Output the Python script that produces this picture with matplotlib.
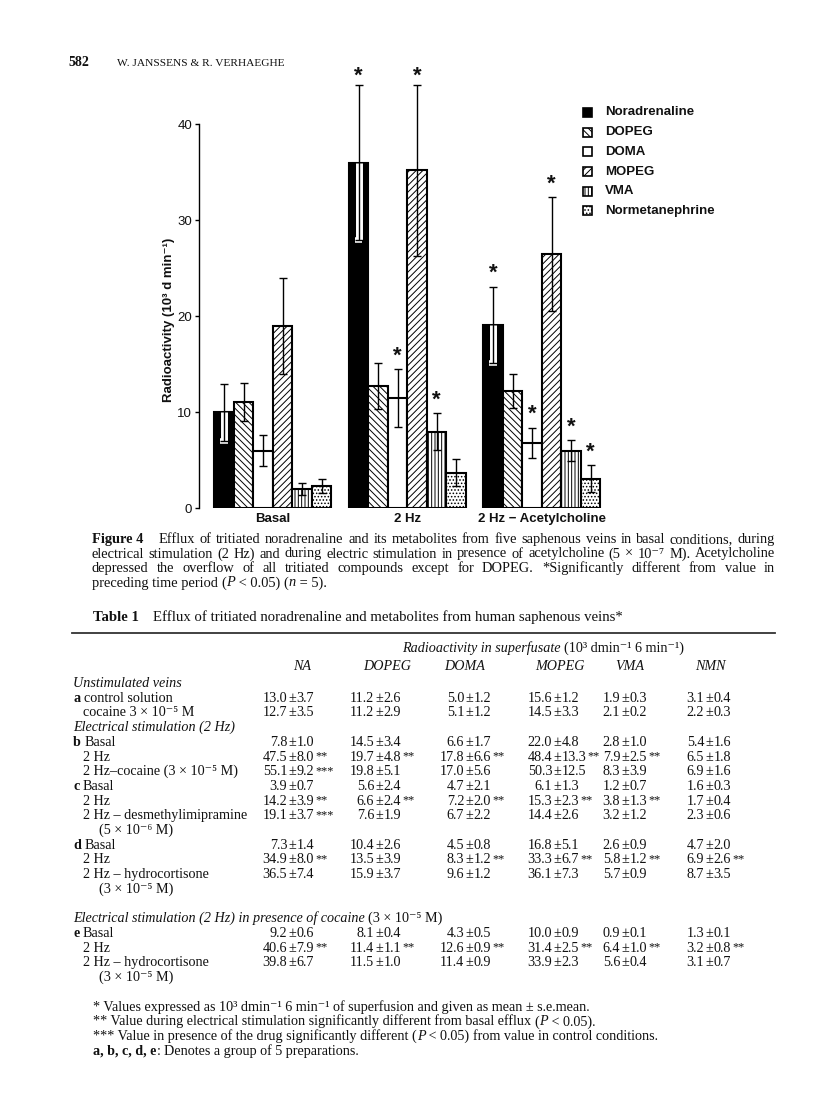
import matplotlib
matplotlib.use("Agg")
import matplotlib.pyplot as plt
from matplotlib.patches import Rectangle

W, H, DPI = 816, 1113, 100
INK = "#111111"
SERIF = ["Liberation Serif", "DejaVu Serif"]
SANS = ["Liberation Sans", "DejaVu Sans"]
plt.rcParams["hatch.linewidth"] = 0.7

# ---- Figure 4 data (10^3 d/min) ----
compounds = ["Noradrenaline", "DOPEG", "DOMA", "MOPEG", "VMA", "Normetanephrine"]
periods = ["Basal", "2 Hz", "2 Hz \u2212 Acetylcholine"]
basal_mean = [10.0, 11.1, 6.0, 19.0, 2.0, 2.3]
basal_err = [3.0, 2.0, 1.6, 5.0, 0.6, 0.7]
hz_mean = [36.0, 12.7, 11.5, 35.2, 8.0, 3.7]
hz_err = [8.1, 2.4, 3.0, 8.9, 1.9, 1.4]
ach_mean = [19.1, 12.2, 6.8, 26.5, 6.0, 3.1]
ach_err = [4.0, 1.8, 1.6, 5.9, 1.1, 1.4]
basal_sig = [0, 0, 0, 0, 0, 0]
hz_sig = [1, 0, 1, 1, 1, 0]
ach_sig = [1, 0, 1, 1, 1, 1]
yticks = [0, 10, 20, 30, 40]

fills = ["black", "white", "white", "white", "white", "white"]
hatches = [None, "\\\\\\\\\\", None, "/////", "|||||", "....."]

# ---- Table 1 data ----
col_names = ["NA", "DOPEG", "DOMA", "MOPEG", "VMA", "NMN"]
row_letters = ["a", "", "b", "", "", "c", "", "", "d", "", "", "e", "", ""]
row_labels = ["control solution", "cocaine 3 \u00d7 10\u207b\u2075 M", "Basal", "2 Hz",
              "2 Hz\u2013cocaine (3 \u00d7 10\u207b\u2075 M)", "Basal", "2 Hz",
              "2 Hz \u2013 desmethylimipramine", "Basal", "2 Hz", "2 Hz \u2013 hydrocortisone",
              "Basal", "2 Hz", "2 Hz \u2013 hydrocortisone"]
row_notes = ["", "", "", "", "", "", "", "(5 \u00d7 10\u207b\u2076 M)", "", "",
             "(3 \u00d7 10\u207b\u2075 M)", "", "", "(3 \u00d7 10\u207b\u2075 M)"]
na = ["13.0\u00b13.7", "12.7\u00b13.5", "7.8\u00b11.0", "47.5\u00b18.0**", "55.1\u00b19.2***",
      "3.9\u00b10.7", "14.2\u00b13.9**", "19.1\u00b13.7***", "7.3\u00b11.4", "34.9\u00b18.0**",
      "36.5\u00b17.4", "9.2\u00b10.6", "40.6\u00b17.9**", "39.8\u00b16.7"]
dopeg = ["11.2\u00b12.6", "11.2\u00b12.9", "14.5\u00b13.4", "19.7\u00b14.8**", "19.8\u00b15.1",
         "5.6\u00b12.4", "6.6\u00b12.4**", "7.6\u00b11.9", "10.4\u00b12.6", "13.5\u00b13.9",
         "15.9\u00b13.7", "8.1\u00b10.4", "11.4\u00b11.1**", "11.5\u00b11.0"]
doma = ["5.0\u00b11.2", "5.1\u00b11.2", "6.6\u00b11.7", "17.8\u00b16.6**", "17.0\u00b15.6",
        "4.7\u00b12.1", "7.2\u00b12.0**", "6.7\u00b12.2", "4.5\u00b10.8", "8.3\u00b11.2**",
        "9.6\u00b11.2", "4.3\u00b10.5", "12.6\u00b10.9**", "11.4\u00b10.9"]
mopeg = ["15.6\u00b11.2", "14.5\u00b13.3", "22.0\u00b14.8", "48.4\u00b113.3**", "50.3\u00b112.5",
         "6.1\u00b11.3", "15.3\u00b12.3**", "14.4\u00b12.6", "16.8\u00b15.1", "33.3\u00b16.7**",
         "36.1\u00b17.3", "10.0\u00b10.9", "31.4\u00b12.5**", "33.9\u00b12.3"]
vma = ["1.9\u00b10.3", "2.1\u00b10.2", "2.8\u00b11.0", "7.9\u00b12.5**", "8.3\u00b13.9",
       "1.2\u00b10.7", "3.8\u00b11.3**", "3.2\u00b11.2", "2.6\u00b10.9", "5.8\u00b11.2**",
       "5.7\u00b10.9", "0.9\u00b10.1", "6.4\u00b11.0**", "5.6\u00b10.4"]
nmn = ["3.1\u00b10.4", "2.2\u00b10.3", "5.4\u00b11.6", "6.5\u00b11.8", "6.9\u00b11.6",
       "1.6\u00b10.3", "1.7\u00b10.4", "2.3\u00b10.6", "4.7\u00b12.0", "6.9\u00b12.6**",
       "8.7\u00b13.5", "1.3\u00b10.1", "3.2\u00b10.8**", "3.1\u00b10.7"]
columns = [na, dopeg, doma, mopeg, vma, nmn]

fig = plt.figure(figsize=(W / DPI, H / DPI), dpi=DPI)
fig.patch.set_facecolor("white")
page = fig.add_axes([0, 0, 1, 1])
page.set_xlim(0, W)
page.set_ylim(H, 0)
page.axis("off")
renderer = fig.canvas.get_renderer()


def width_of(t):
    return t.get_window_extent(renderer).width


def token(y, parts, size, family):
    x, made = 0.0, []
    for text, st in parts:
        kw = dict(fontsize=size, family=family, va="baseline", color=INK)
        kw.update(st)
        t = page.text(x, y, text, **kw)
        made.append(t)
        x += width_of(t)
    return made, x


def space_of(size, family):
    a = page.text(0, 0, "x x", fontsize=size, family=family)
    b = page.text(0, 0, "xx", fontsize=size, family=family)
    s = width_of(a) - width_of(b)
    a.remove()
    b.remove()
    return s


def line(x0, y, tokens, size, family=SERIF, x1=None):
    # tokens: list of runs; runs are (text, style) placed side by side
    built = [token(y, p, size, family) for p in tokens]
    total = sum(w for _, w in built)
    if x1 is None or len(built) < 2:
        gap = space_of(size, family)
    else:
        gap = (x1 - x0 - total) / (len(built) - 1)
    x = x0
    for made, w in built:
        for t in made:
            t.set_x(t.get_position()[0] + x)
        x += w + gap
    return x - gap


def words(s, **st):
    return [[(w, st)] for w in s.split()]


BOLD = dict(fontweight="bold")
ITAL = dict(style="italic")

# ---- running head ----
line(68, 66, [[("582", BOLD)]], 10)
line(117, 66, [[("W. JANSSENS & R. VERHAEGHE", {})]], 8.2)

# ---- bar chart ----
ax_left, ax_right, y0_px, ytop_px = 199, 622, 508.3, 60
px_per_unit = 9.6
bar_px = 19.5
ax = fig.add_axes([ax_left / W, 1 - y0_px / H, (ax_right - ax_left) / W, (y0_px - ytop_px) / H])
ax.patch.set_alpha(0)
ax.set_ylim(0, (y0_px - ytop_px) / px_per_unit)
x_start = -(214.3 - ax_left) / bar_px
ax.set_xlim(x_start, x_start + (ax_right - ax_left) / bar_px)
group_step = 134.5 / bar_px

means = [basal_mean, hz_mean, ach_mean]
errs = [basal_err, hz_err, ach_err]
sigs = [basal_sig, hz_sig, ach_sig]
for g, (m, e, s) in enumerate(zip(means, errs, sigs)):
    for i in range(len(compounds)):
        x = g * group_step + i + 0.5
        ax.bar(x, m[i], width=1, color=fills[i], hatch=hatches[i], edgecolor="black",
               linewidth=1.5, zorder=2)
        if fills[i] == "black":
            ax.vlines(x, m[i] - e[i], m[i], color="white", lw=5, zorder=3)
            ax.hlines(m[i] - e[i], x - 0.2, x + 0.2, color="white", lw=4, zorder=3)
        ax.errorbar(x, m[i], yerr=e[i], fmt="none", ecolor="black", elinewidth=1.0,
                    capsize=3, capthick=1.0, zorder=4)
        if s[i]:
            ax.text(x, min(m[i] + e[i] + 0.8, 44.4), "*", ha="center", va="baseline",
                    fontsize=16, fontweight="bold", family=SANS, color=INK, clip_on=False)
    ax.text(g * group_step + 3, -1.1, periods[g], ha="center", va="center", fontsize=9.5,
            fontweight="bold", family=SANS, color=INK, clip_on=False)

for side in ["top", "right", "bottom"]:
    ax.spines[side].set_visible(False)
ax.spines["left"].set_bounds(0, 40)
ax.spines["left"].set_linewidth(1.0)
ax.set_yticks(yticks)
ax.set_xticks([])
ax.tick_params(axis="y", length=3, width=1, pad=2, labelsize=9.5, labelcolor=INK)
for lab in ax.get_yticklabels():
    lab.set_family(SANS)
page.text(169, 320, "Radioactivity (10\u00b3 d min\u207b\u00b9)", rotation=90, ha="center",
          va="center", fontsize=9.5, fontweight="bold", family=SANS, color=INK)

# legend
leg_y = [112.3, 132.3, 151.7, 171.7, 191, 210.7]
for i, name in enumerate(compounds):
    page.add_patch(Rectangle((583, leg_y[i] - 4.5), 9, 9, facecolor=fills[i], hatch=hatches[i],
                             edgecolor="black", lw=1.2))
    page.text(605, leg_y[i], name, va="center", ha="left", fontsize=9.5, fontweight="bold",
              family=SANS, color=INK)

# ---- caption ----
cap_size = 10.4
cap_x0, cap_x1 = 92, 775
lead, lw_ = token(543, [("Figure 4", BOLD)], cap_size, SERIF)
for t in lead:
    t.set_x(cap_x0)
line(cap_x0 + lw_ + 15, 543, words("Efflux of tritiated noradrenaline and its metabolites from "
                                   "five saphenous veins in basal conditions, during"),
     cap_size, x1=cap_x1)
line(cap_x0, 557.5, words("electrical stimulation (2 Hz) and during electric stimulation in "
                          "presence of acetylcholine (5 \u00d7 10\u207b\u2077 M). Acetylcholine"),
     cap_size, x1=cap_x1)
line(cap_x0, 572, words("depressed the overflow of all tritiated compounds except for DOPEG. "
                        "*Significantly different from value in"), cap_size, x1=cap_x1)
line(cap_x0, 586.5, [[("preceding time period", {})],
                     [("(", {}), ("P", ITAL), (" < 0.05)", {})],
                     [("(", {}), ("n", ITAL), (" = 5).", {})]], cap_size)

# ---- table ----
tab_size = 10.2
lead, lw_ = token(621, [("Table 1", BOLD)], 10.6, SERIF)
for t in lead:
    t.set_x(93)
line(93 + lw_ + 14, 621, [[("Efflux of tritiated noradrenaline and metabolites from human "
                            "saphenous veins*", {})]], 10.6)
page.plot([72, 775], [632.5, 632.5], color="#333333", lw=1.3)

line(402, 652, [[("Radioactivity in superfusate", ITAL)],
                [("(10\u00b3 dmin\u207b\u00b9 6 min\u207b\u00b9)", {})]], tab_size)
col_head_x = [301.7, 386.7, 465, 560, 630, 710]
col_pm_x = [288, 375, 465, 553, 621, 705]
for cx, name in zip(col_head_x, col_names):
    page.text(cx, 670, name, ha="center", va="baseline", fontsize=tab_size, style="italic",
              family=SERIF, color=INK)

row_h = 14.7
sections = {0: [[("Unstimulated veins", ITAL)]], 2: [[("Electrical stimulation (2 Hz)", ITAL)]],
            11: [[("Electrical stimulation (2 Hz) in presence of cocaine", ITAL)],
                 [("(3 \u00d7 10\u207b\u2075 M)", {})]]}
y = 687
for r in range(len(row_labels)):
    if r in sections:
        if r == 11:
            y += row_h
        line(73, y, sections[r], tab_size)
        y += row_h
    if row_letters[r]:
        line(73, y, [[(row_letters[r], BOLD)], [(row_labels[r], {})]], tab_size)
    else:
        line(83, y, [[(row_labels[r], {})]], tab_size)
    for col, px in zip(columns, col_pm_x):
        mean, rest = col[r].split("\u00b1")
        sd, stars = rest.rstrip("*"), "*" * rest.count("*")
        page.text(px - 0.8, y, mean, ha="right", va="baseline", fontsize=tab_size,
                  family=SERIF, color=INK)
        pm = page.text(px, y, "\u00b1", ha="left", va="baseline", fontsize=tab_size,
                       family=SERIF, color=INK)
        sd_t = page.text(px + width_of(pm) + 0.8, y, sd, ha="left", va="baseline",
                         fontsize=tab_size, family=SERIF, color=INK)
        if stars:
            page.text(px + width_of(pm) + 1.8 + width_of(sd_t), y - 1, stars, ha="left",
                      va="baseline", fontsize=8.8, family=SERIF, color=INK)
    y += row_h
    if row_notes[r]:
        line(99, y, [[(row_notes[r], {})]], tab_size)
        y += row_h

# ---- footnotes ----
fy = y + 15
line(93, fy, [[("* Values expressed as 10\u00b3 dmin\u207b\u00b9 6 min\u207b\u00b9 of "
                "superfusion and given as mean \u00b1 s.e.mean.", {})]], tab_size)
line(93, fy + 14.7, [[("** Value during electrical stimulation significantly different "
                       "from basal efflux", {})],
                     [("(", {}), ("P", ITAL), (" < 0.05).", {})]], tab_size)
line(93, fy + 29.4, [[("*** Value in presence of the drug significantly different", {})],
                     [("(", {}), ("P", ITAL), (" < 0.05)", {})],
                     [("from value in control conditions.", {})]], tab_size)
line(93, fy + 44.1, [[("a, b, c, d, e", BOLD), (":", {})],
                     [("Denotes a group of 5 preparations.", {})]], tab_size)

fig.savefig("out.png", dpi=DPI, facecolor="white")
